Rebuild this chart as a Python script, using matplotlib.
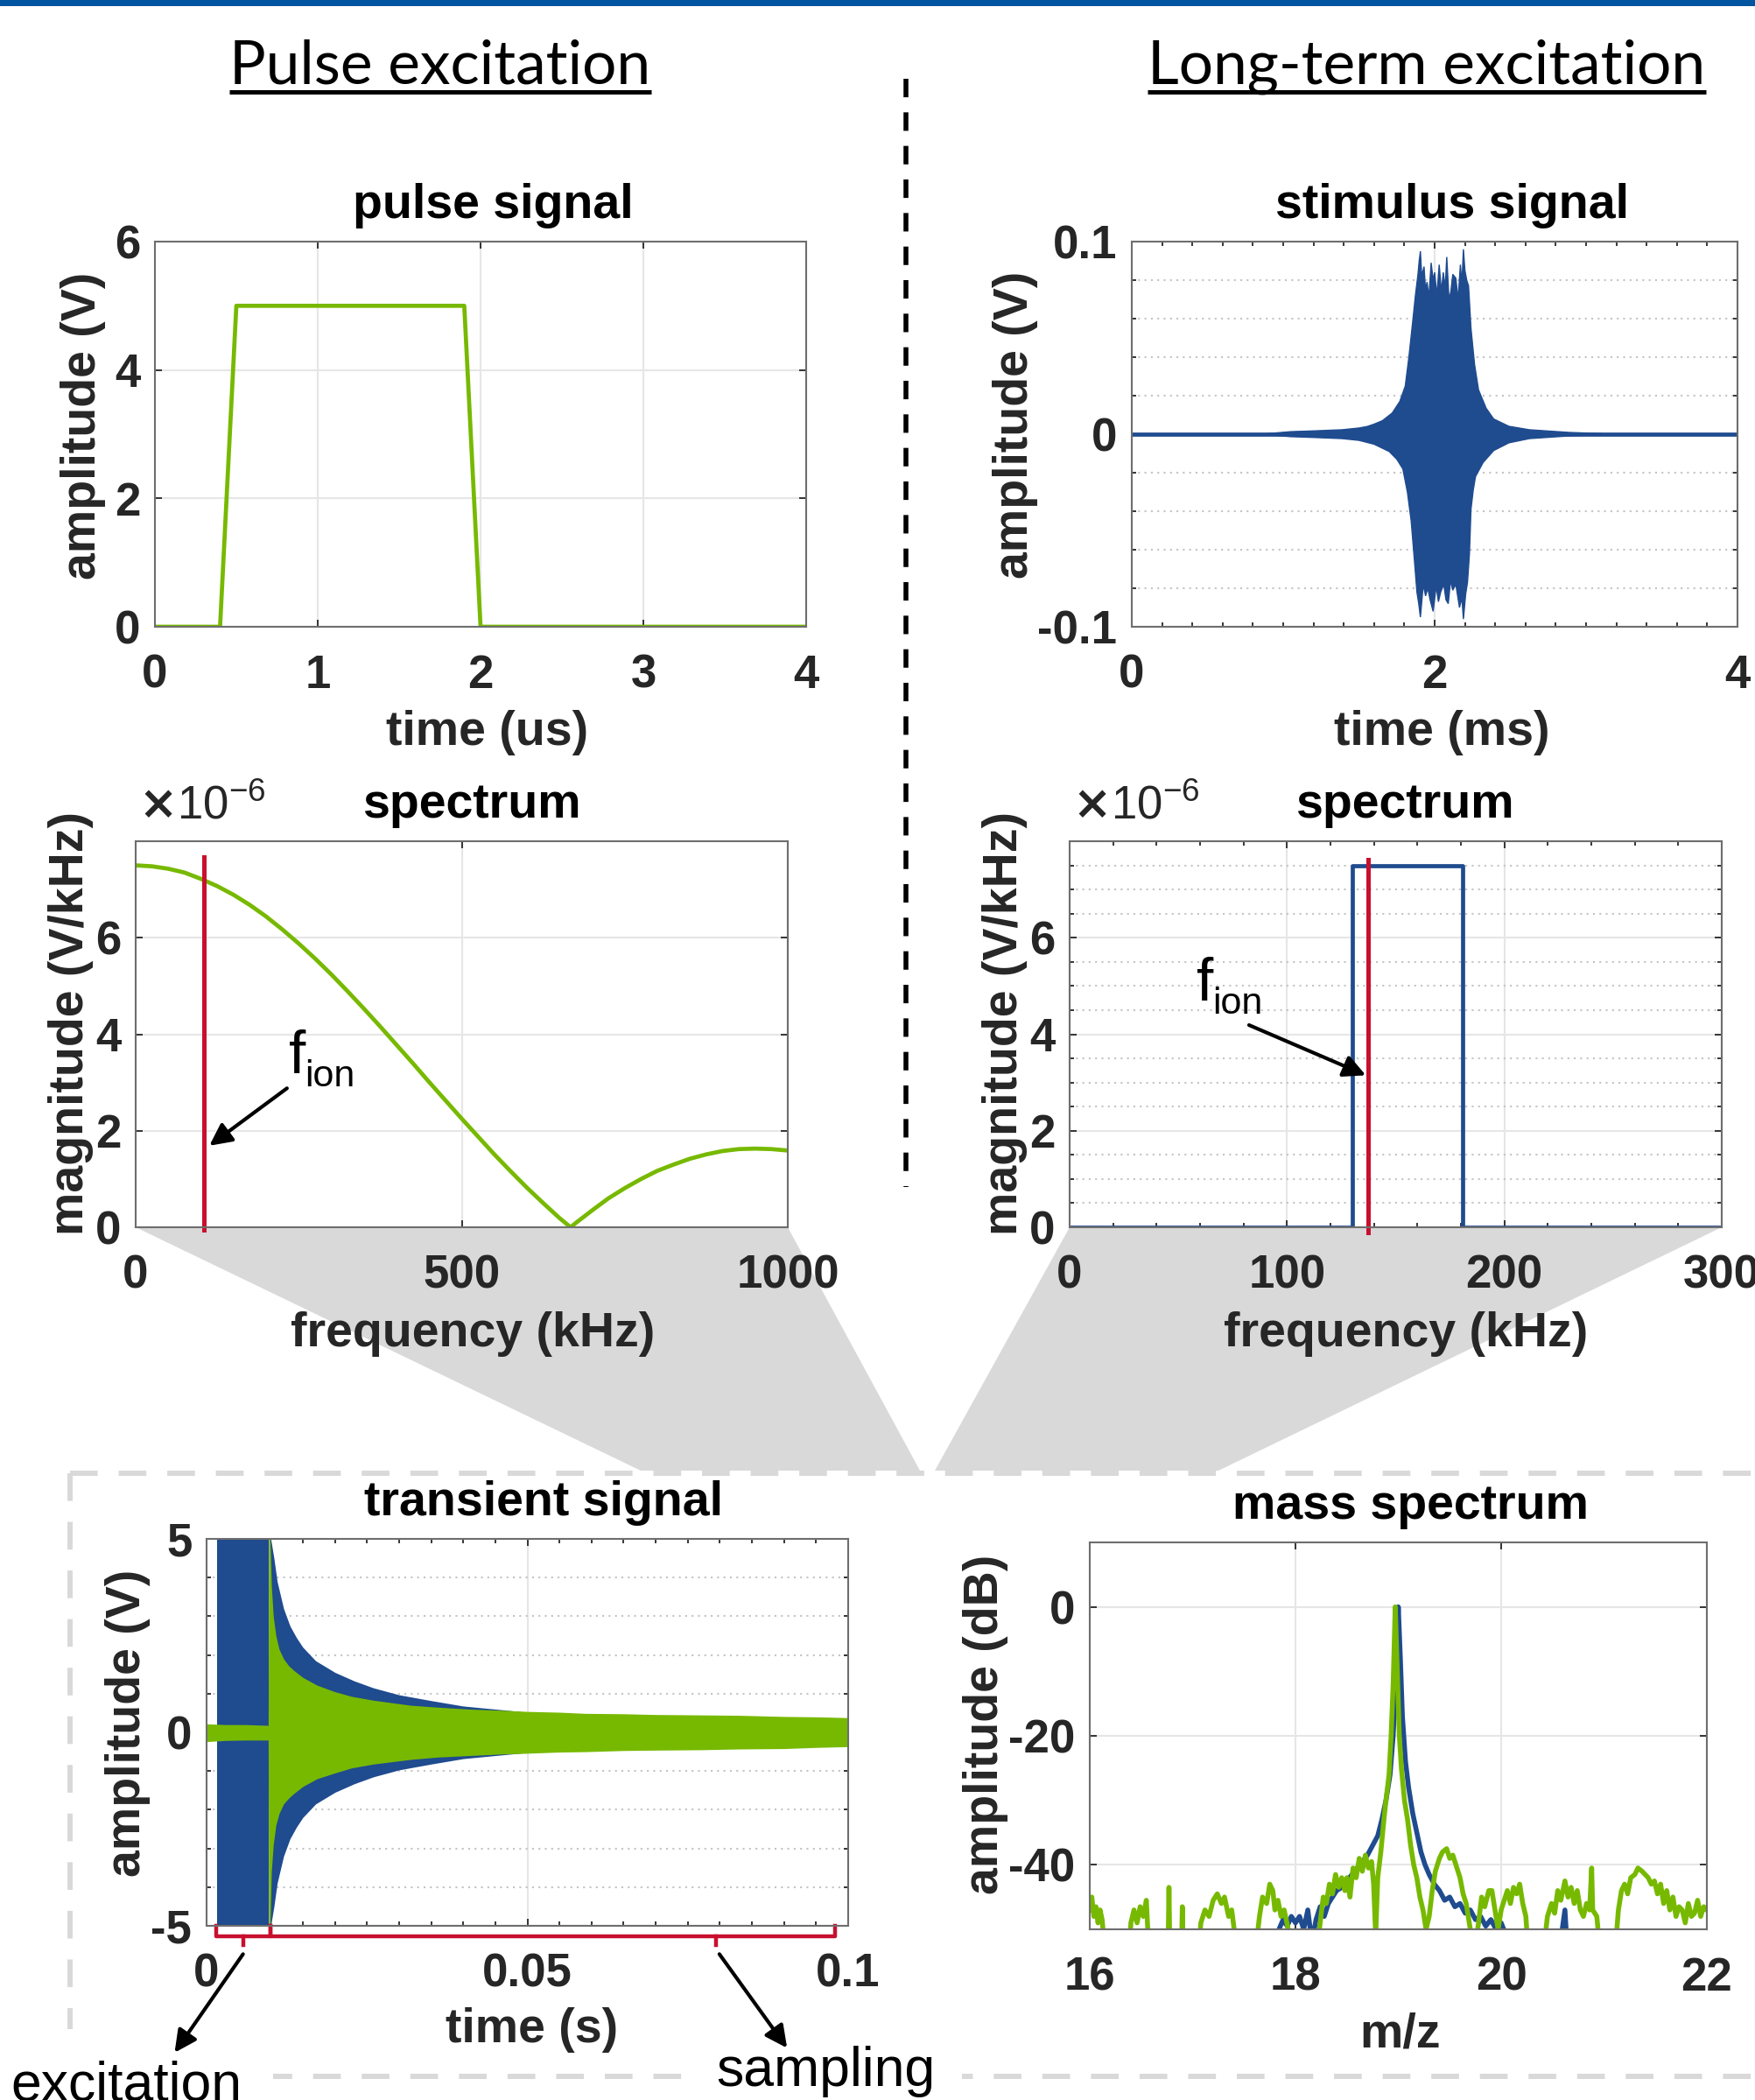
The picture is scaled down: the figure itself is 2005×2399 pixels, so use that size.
import numpy as np
import matplotlib
matplotlib.use("Agg")
import matplotlib.pyplot as plt
import matplotlib.transforms as mtransforms
from matplotlib.patches import Polygon, Rectangle

# ---- data ----
# pulse signal (us, V)
pulse_t = [0.0, 0.4, 0.5, 1.9, 2.0, 4.0]
pulse_v = [0.0, 0.0, 5.0, 5.0, 0.0, 0.0]

# stimulus signal envelope (ms, V)
stim_up_t = [0.9, 1.05, 1.2, 1.39, 1.5, 1.555, 1.6, 1.655, 1.72, 1.77,
             1.806, 1.83, 1.856, 1.873, 1.89, 1.898, 1.906, 1.915, 1.93, 1.94,
             1.95, 1.962, 1.977, 1.99, 2.0, 2.015, 2.03, 2.045, 2.057, 2.07,
             2.08, 2.095, 2.107, 2.12, 2.14, 2.155, 2.17, 2.18, 2.19, 2.2,
             2.212, 2.224, 2.24, 2.264, 2.29, 2.34, 2.39, 2.49, 2.625, 2.89, 3.1]
stim_up = [0.0003, 0.0013, 0.0017, 0.0023, 0.0032, 0.004, 0.0052, 0.007, 0.011, 0.017,
           0.025, 0.04, 0.059, 0.072, 0.083, 0.09, 0.095, 0.082, 0.087, 0.075,
           0.079, 0.071, 0.089, 0.080, 0.084, 0.072, 0.088, 0.074, 0.084, 0.076,
           0.092, 0.07, 0.074, 0.083, 0.081, 0.07, 0.088, 0.078, 0.096, 0.085,
           0.08, 0.077, 0.055, 0.036, 0.023, 0.0135, 0.0079, 0.0041, 0.0023, 0.0009, 0.0003]
stim_lo_t = [0.9, 1.05, 1.2, 1.39, 1.5, 1.6, 1.7, 1.75, 1.79, 1.82,
             1.845, 1.866, 1.883, 1.895, 1.906, 1.915, 1.925, 1.94, 1.955, 1.97,
             1.99, 2.01, 2.025, 2.04, 2.06, 2.075, 2.09, 2.105, 2.12, 2.14,
             2.164, 2.18, 2.19, 2.205, 2.217, 2.23, 2.24, 2.255, 2.27, 2.32,
             2.39, 2.49, 2.625, 2.89, 3.1]
stim_lo = [-0.0003, -0.0013, -0.0017, -0.0023, -0.0032, -0.0052, -0.009, -0.013, -0.018, -0.03,
           -0.045, -0.065, -0.082, -0.088, -0.095, -0.087, -0.078, -0.084, -0.08, -0.086,
           -0.092, -0.079, -0.087, -0.082, -0.078, -0.086, -0.088, -0.076, -0.081, -0.078,
           -0.09, -0.085, -0.096, -0.083, -0.077, -0.062, -0.039, -0.029, -0.022, -0.0147,
           -0.0085, -0.0045, -0.0023, -0.0009, -0.0003]

# pulse spectrum (kHz, x1e-6 V/kHz)
pspec_f = [0, 25, 50, 75, 100, 125, 150, 175, 200, 225, 250, 275, 300, 325, 350,
           375, 400, 425, 450, 475, 500, 525, 550, 575, 600, 625, 650, 667, 675,
           700, 725, 750, 775, 800, 825, 850, 875, 900, 925, 950, 975, 1000]
pspec_m = [7.50, 7.48, 7.43, 7.35, 7.22, 7.07, 6.89, 6.68, 6.44, 6.17, 5.88, 5.57, 5.24,
           4.89, 4.53, 4.16, 3.78, 3.40, 3.01, 2.63, 2.25, 1.88, 1.51, 1.16, 0.82, 0.50,
           0.19, 0.0, 0.09, 0.35, 0.60, 0.81, 1.00, 1.17, 1.30, 1.42, 1.51, 1.58, 1.62,
           1.63, 1.62, 1.59]
pulse_fion = 105

# long-term spectrum (kHz, x1e-6 V/kHz)
lspec_f = [0, 130, 130, 181, 181, 300]
lspec_m = [0.0, 0.0, 7.5, 7.5, 0.0, 0.0]
long_fion = 137.5

# transient signal envelopes (s, V)
exc_t = [0.0016, 0.0097]
exc_amp = [5.0, 5.0]
tb_t = [0.0097, 0.0100, 0.0105, 0.011, 0.012, 0.013, 0.014, 0.015, 0.017, 0.020,
        0.023, 0.026, 0.030, 0.035, 0.040, 0.045, 0.050]
tb_up = [5.0, 5.0, 4.5, 3.9, 3.2, 2.75, 2.45, 2.2, 1.85, 1.55,
         1.33, 1.15, 0.97, 0.82, 0.68, 0.6, 0.52]
tg_t = [0.0, 0.003, 0.006, 0.0096, 0.0097, 0.0099, 0.0101, 0.0104, 0.0108, 0.0113,
        0.012, 0.0128, 0.0136, 0.015, 0.0172, 0.020, 0.0226, 0.026, 0.0318, 0.036,
        0.041, 0.046, 0.050, 0.055, 0.059, 0.065, 0.070, 0.077, 0.083, 0.090,
        0.095, 0.100]
tg_up = [0.22, 0.2, 0.2, 0.18, 5.0, 5.0, 3.8, 3.0, 2.5, 2.15,
         1.9, 1.72, 1.6, 1.42, 1.22, 1.05, 0.93, 0.83, 0.70, 0.65,
         0.60, 0.57, 0.54, 0.52, 0.49, 0.48, 0.46, 0.45, 0.44, 0.41,
         0.40, 0.38]
tg_lo = [-0.24, -0.21, -0.2, -0.2, -5.0, -5.0, -3.6, -2.9, -2.4, -2.1,
         -1.85, -1.7, -1.58, -1.4, -1.2, -1.05, -0.92, -0.82, -0.70, -0.64,
         -0.60, -0.56, -0.54, -0.51, -0.50, -0.47, -0.46, -0.45, -0.43, -0.42,
         -0.39, -0.37]
excitation_win = [0.0015, 0.0099]
excitation_mid = 0.0057
sampling_win = [0.0099, 0.098]
sampling_mid = 0.0794

# mass spectrum (m/z, dB)
ms_green_mz = [16.00, 16.02, 16.04, 16.06, 16.08, 16.10, 16.12, 16.14, 16.20, 16.38,
               16.40, 16.43, 16.46, 16.49, 16.52, 16.55, 16.57, 16.70, 16.76, 16.77,
               16.78, 16.89, 16.90, 16.91, 17.05, 17.08, 17.12, 17.16, 17.20, 17.24,
               17.28, 17.31, 17.35, 17.38, 17.42, 17.60, 17.65, 17.68, 17.72, 17.75,
               17.78, 17.80, 17.83, 17.86, 17.89, 17.93, 17.97, 18.20, 18.24, 18.27,
               18.30, 18.33, 18.36, 18.39, 18.42, 18.45, 18.48, 18.50, 18.53, 18.56,
               18.59, 18.62, 18.65, 18.68, 18.71, 18.74, 18.76, 18.78, 18.80, 18.83,
               18.86, 18.88, 18.91, 18.93, 18.95, 18.97, 18.99, 19.01, 19.03, 19.06,
               19.09, 19.12, 19.15, 19.18, 19.21, 19.24, 19.27, 19.30, 19.33, 19.36,
               19.40, 19.43, 19.47, 19.50, 19.53, 19.56, 19.60, 19.63, 19.66, 19.70,
               19.73, 19.78, 19.81, 19.84, 19.88, 19.91, 19.94, 19.97, 20.00, 20.03,
               20.06, 20.09, 20.12, 20.15, 20.18, 20.21, 20.24, 20.27, 20.40, 20.45,
               20.49, 20.52, 20.55, 20.58, 20.62, 20.65, 20.68, 20.71, 20.74, 20.77,
               20.80, 20.83, 20.86, 20.88, 20.89, 20.93, 20.97, 21.10, 21.14, 21.17,
               21.20, 21.23, 21.26, 21.30, 21.33, 21.37, 21.40, 21.43, 21.46, 21.49,
               21.52, 21.55, 21.58, 21.61, 21.64, 21.67, 21.70, 21.73, 21.76, 21.79,
               21.82, 21.85, 21.88, 21.91, 21.94, 21.97, 22.00]
ms_green_db = [-47, -45, -48, -46.5, -49, -47, -48.5, -52, -55, -55,
               -49, -47, -49, -46.5, -48, -45.5, -52, -55, -55, -43.5,
               -55, -55, -46.5, -55, -55, -49, -47, -48, -45.5, -44.5,
               -46, -45, -48, -47, -52, -55, -48, -45, -46, -43,
               -44, -47, -45.5, -48, -47, -50, -55, -55, -49, -45,
               -46, -43, -44.5, -41.5, -43.5, -42, -44, -42, -45, -40.5,
               -42, -39, -41, -38.5, -40.5, -39.5, -43, -51, -42, -38,
               -33, -30, -26, -20, -12, 0, -10, -20, -25, -30,
               -33, -37, -40, -42, -45, -47, -50, -48, -44, -41,
               -39, -38, -37.5, -39, -38.5, -40, -42, -44.5, -46, -50,
               -55, -49, -45, -46.5, -44, -44, -47, -50, -47, -45.5,
               -44, -46, -43.5, -44.5, -43, -46, -48, -55, -55, -48,
               -46, -47.5, -44, -45.5, -42.5, -45, -43.5, -46, -44, -47,
               -48, -46, -47, -40.5, -47, -48, -55, -55, -47, -44,
               -43, -44.5, -42, -41.5, -40.5, -41, -41.5, -42, -43, -42.5,
               -44.5, -43, -46, -44, -47, -45, -48, -46.5, -47, -49,
               -46, -48, -47.5, -45.5, -48, -46.5, -47]
ms_blue_mz = [16.0, 17.80, 17.84, 17.88, 17.92, 17.96, 18.00, 18.04, 18.08, 18.12,
              18.16, 18.20, 18.24, 18.28, 18.32, 18.36, 18.40, 18.45, 18.50, 18.55,
              18.60, 18.65, 18.70, 18.75, 18.80, 18.84, 18.88, 18.92, 18.95, 18.98,
              19.00, 19.02, 19.04, 19.07, 19.10, 19.14, 19.18, 19.22, 19.26, 19.30,
              19.35, 19.40, 19.45, 19.50, 19.55, 19.60, 19.65, 19.70, 19.75, 19.80,
              19.85, 19.90, 19.95, 20.00, 20.05, 20.10, 20.55, 20.62, 20.65, 22.0]
ms_blue_db = [-55, -55, -50, -48.5, -49.5, -48, -49, -48, -50, -47,
              -52, -48.5, -46.5, -48, -46, -45, -44, -43.5, -42.5, -41.5,
              -40.5, -39.5, -38.5, -37, -35.5, -33, -30, -26, -20, -10,
              0, -8, -17, -24, -28, -32, -35, -38, -40, -41.5,
              -43, -44, -45.5, -45, -46.5, -46, -47.5, -47, -48.5, -48,
              -49.5, -48.5, -50, -49, -51, -55, -55, -47, -55, -55]

GREEN = "#77b900"
BLUE = "#1f4b8f"
RED = "#c8102e"
GREY = "#d9d9d9"
TXT = "#262626"

plt.rcParams["font.family"] = ["Liberation Sans", "DejaVu Sans"]
plt.rcParams["font.weight"] = "bold"
plt.rcParams["axes.unicode_minus"] = False

W, H = 2005, 2399
fig = plt.figure(figsize=(W / 100, H / 100), dpi=100)
pix = mtransforms.Affine2D().scale(1 / W, -1 / H).translate(0, 1) + fig.transFigure

ov = fig.add_axes([0, 0, 1, 1])
ov.set_xlim(0, W)
ov.set_ylim(H, 0)
ov.axis("off")
ov.set_zorder(0)


def panel(l, t, r, b):
    ax = fig.add_axes([l / W, 1 - b / H, (r - l) / W, (b - t) / H])
    ax.set_zorder(2)
    for s in ax.spines.values():
        s.set_color("#6e6e6e")
        s.set_linewidth(1.5)
    ax.tick_params(which="both", direction="in", top=True, right=True,
                   color=TXT, labelcolor=TXT, labelsize=38, width=1.3)
    ax.tick_params(which="major", length=6)
    ax.tick_params(which="minor", length=3.5)
    ax.tick_params(axis="x", pad=22)
    ax.tick_params(axis="y", pad=12)
    ax.set_axisbelow(True)
    ax.grid(True, which="major", color="#e6e6e6", lw=1.5)
    return ax


def minor_ygrid(ax):
    ax.grid(True, which="minor", axis="y", color="#c4c4c4", ls=(0, (1, 2.5)), lw=1.5)


def label(x, y, s, rot=0, size=40):
    fig.text(x, y, s, transform=pix, ha="center", va="baseline" if rot == 0 else "center",
             rotation=rot, fontsize=size, color=TXT, fontweight="bold")


def title(x, y, s):
    fig.text(x, y, s, transform=pix, ha="center", va="baseline", fontsize=40,
             color="black", fontweight="bold")


def exponent(x, y):
    fig.text(x, y, r"$\times$10$^{\mathregular{-6}}$", transform=pix, fontsize=38,
             fontweight="normal", color=TXT, va="baseline")


def fion(ax, x, y):
    ax.text(x, y, "f", fontsize=50, fontweight="normal", color="black", va="baseline")
    ax.annotate("ion", (x, y), xytext=(13, -11), textcoords="offset points",
                fontsize=31, fontweight="normal", color="black", va="baseline")


ARROW = dict(arrowstyle="-|>", color="black", lw=3, mutation_scale=38)

# ---- panel 1: pulse signal ----
ax1 = panel(177, 276, 921, 716)
ax1.plot(pulse_t, pulse_v, color=GREEN, lw=3.4)
ax1.set_xlim(0, 4)
ax1.set_ylim(0, 6)
ax1.set_xticks([0, 1, 2, 3, 4], ["0", "1", "2", "3", "4"])
ax1.set_yticks([0, 2, 4, 6], ["0", "2", "4", "6"])
title(563, 249, "pulse signal")
label(557, 851, "time (us)")
label(95, 486, "amplitude (V)", rot=90)

# ---- panel 2: stimulus signal ----
ax2 = panel(1293, 276, 1985, 716)
ax2.fill(np.r_[stim_up_t, stim_lo_t[::-1]], np.r_[stim_up, stim_lo[::-1]],
         color=BLUE, lw=1)
ax2.plot([0, 4], [0, 0], color=BLUE, lw=3.4)
ax2.set_xlim(0, 4)
ax2.set_ylim(-0.1, 0.1)
ax2.set_xticks([0, 2, 4], ["0", "2", "4"])
ax2.set_xticks(np.arange(0, 4.01, 0.2), minor=True)
ax2.set_yticks([-0.1, 0, 0.1], ["-0.1", "0", "0.1"])
ax2.set_yticks(np.arange(-0.1, 0.101, 0.02), minor=True)
minor_ygrid(ax2)
title(1659, 249, "stimulus signal")
label(1647, 851, "time (ms)")
label(1160, 485, "amplitude (V)", rot=90)

# ---- grey zoom wedges ----
ov.add_patch(Polygon([(155, 1402), (900, 1402), (1051, 1680), (732, 1680)],
                     closed=True, fc=GREY, ec="none"))
ov.add_patch(Polygon([(1222, 1402), (1967, 1402), (1392, 1680), (1068, 1680)],
                     closed=True, fc=GREY, ec="none"))

# ---- panel 3: pulse spectrum ----
ax3 = panel(155, 961, 900, 1402)
ax3.plot(pspec_f, pspec_m, color=GREEN, lw=3.4)
ax3.plot([pulse_fion, pulse_fion], [-0.05, 7.68], color=RED, lw=3.6, clip_on=False)
ax3.set_xlim(0, 1000)
ax3.set_ylim(0, 8)
ax3.set_xticks([0, 500, 1000], ["0", "500", "1000"])
ax3.set_yticks([0, 2, 4, 6], ["0", "2", "4", "6"])
fion(ax3, 235, 3.19)
ax3.annotate("", xy=(110, 1.66), xytext=(235, 2.91), arrowprops=ARROW)
exponent(158, 936)
title(539, 934, "spectrum")
label(540, 1538, "frequency (kHz)")
label(81, 1169, "magnitude (V/kHz)", rot=90)

# ---- panel 4: long-term spectrum ----
ax4 = panel(1222, 961, 1967, 1402)
ax4.plot(lspec_f, lspec_m, color=BLUE, lw=3.4)
ax4.plot([long_fion, long_fion], [-0.1, 7.61], color=RED, lw=3.6, clip_on=False)
ax4.set_xlim(0, 300)
ax4.set_ylim(0, 8)
ax4.set_xticks([0, 100, 200, 300], ["0", "100", "200", "300"])
ax4.set_xticks(np.arange(0, 301, 20), minor=True)
ax4.set_yticks([0, 2, 4, 6], ["0", "2", "4", "6"])
ax4.set_yticks(np.arange(0, 8.01, 0.5), minor=True)
minor_ygrid(ax4)
fion(ax4, 58.4, 4.70)
ax4.annotate("", xy=(137.3, 3.13), xytext=(81.5, 4.21), arrowprops=ARROW)
exponent(1225, 936)
title(1605, 934, "spectrum")
label(1606, 1538, "frequency (kHz)")
label(1148, 1169, "magnitude (V/kHz)", rot=90)

# ---- panel 5: transient signal ----
ax5 = panel(236, 1758, 969, 2200)
ax5.fill_between(exc_t, [-a for a in exc_amp], exc_amp, color=BLUE, lw=0)
ax5.fill_between(tb_t, [-a for a in tb_up], tb_up, color=BLUE, lw=0)
ax5.fill_between(tg_t, tg_lo, tg_up, color=GREEN, lw=0)
ax5.set_xlim(0, 0.1)
ax5.set_ylim(-5, 5)
ax5.set_xticks([0, 0.05, 0.1], ["0", "0.05", "0.1"])
ax5.set_xticks(np.arange(0, 0.1001, 0.005), minor=True)
ax5.set_yticks([-5, 0, 5], ["-5", "0", "5"])
ax5.set_yticks(np.arange(-5, 5.01, 1), minor=True)
minor_ygrid(ax5)
for (a, b), m in [(excitation_win, excitation_mid), (sampling_win, sampling_mid)]:
    ax5.plot([a, a, b, b], [-5.0, -5.27, -5.27, -5.0], color=RED, lw=3.2, clip_on=False)
    ax5.plot([m, m], [-5.27, -5.5], color=RED, lw=3.2, clip_on=False)
ax5.annotate("", xy=(-0.0052, -8.33), xytext=(0.0059, -5.68), annotation_clip=False,
             arrowprops=ARROW)
ax5.annotate("", xy=(0.0907, -8.21), xytext=(0.0797, -5.68), annotation_clip=False,
             arrowprops=ARROW)
title(621, 1731, "transient signal")
label(608, 2333, "time (s)")
label(146, 1968, "amplitude (V)", rot=90)

# ---- panel 6: mass spectrum ----
ax6 = panel(1245, 1762, 1950, 2204)
ax6.plot(ms_blue_mz, ms_blue_db, color=BLUE, lw=4)
ax6.plot(ms_green_mz, ms_green_db, color=GREEN, lw=4)
ax6.set_xlim(16, 22)
ax6.set_ylim(-50, 10)
ax6.set_xticks([16, 18, 20, 22], ["16", "18", "20", "22"])
ax6.set_yticks([-40, -20, 0], ["-40", "-20", "0"])
title(1612, 1735, "mass spectrum")
label(1600, 2338, "m/z")
label(1126, 1970, "amplitude (dB)", rot=90)

# ---- frame decorations ----
ov.add_patch(Rectangle((0, 0), W, 7, fc="#0054a0", ec="none"))
ov.plot([1035, 1035], [90, 1356], color="black", lw=4, ls=(0, (3.8, 3.1)),
        solid_capstyle="butt")
box_ls = (0, (5.3, 4.0))
ov.plot([80, W + 10], [1683, 1683], color=GREY, lw=4.3, ls=box_ls)
ov.plot([80, 80], [1683, 2372], color=GREY, lw=4.3, ls=box_ls)
ov.plot([80, W + 10], [2372, 2372], color=GREY, lw=4.3, ls=box_ls)

ov.text(144, 2400, "excitation", ha="center", va="baseline", fontsize=45,
        fontweight="normal", color="black", zorder=5,
        bbox=dict(fc="white", ec="none", pad=26))
ov.text(943, 2383, "sampling", ha="center", va="baseline", fontsize=45,
        fontweight="normal", color="black", zorder=5,
        bbox=dict(fc="white", ec="none", pad=22))

heads = []
for x, s in [(503, "Pulse excitation"), (1630, "Long-term excitation")]:
    heads.append(ov.text(x, 95, s, ha="center", va="baseline", fontsize=50,
                         fontweight="normal", family=["Lato", "Liberation Sans"],
                         color="black"))
fig.canvas.draw()
for t in heads:
    bb = t.get_window_extent()
    ov.plot([bb.x0, bb.x1], [105, 105], color="black", lw=3.6, solid_capstyle="butt")

fig.savefig("out.png", dpi=100)
